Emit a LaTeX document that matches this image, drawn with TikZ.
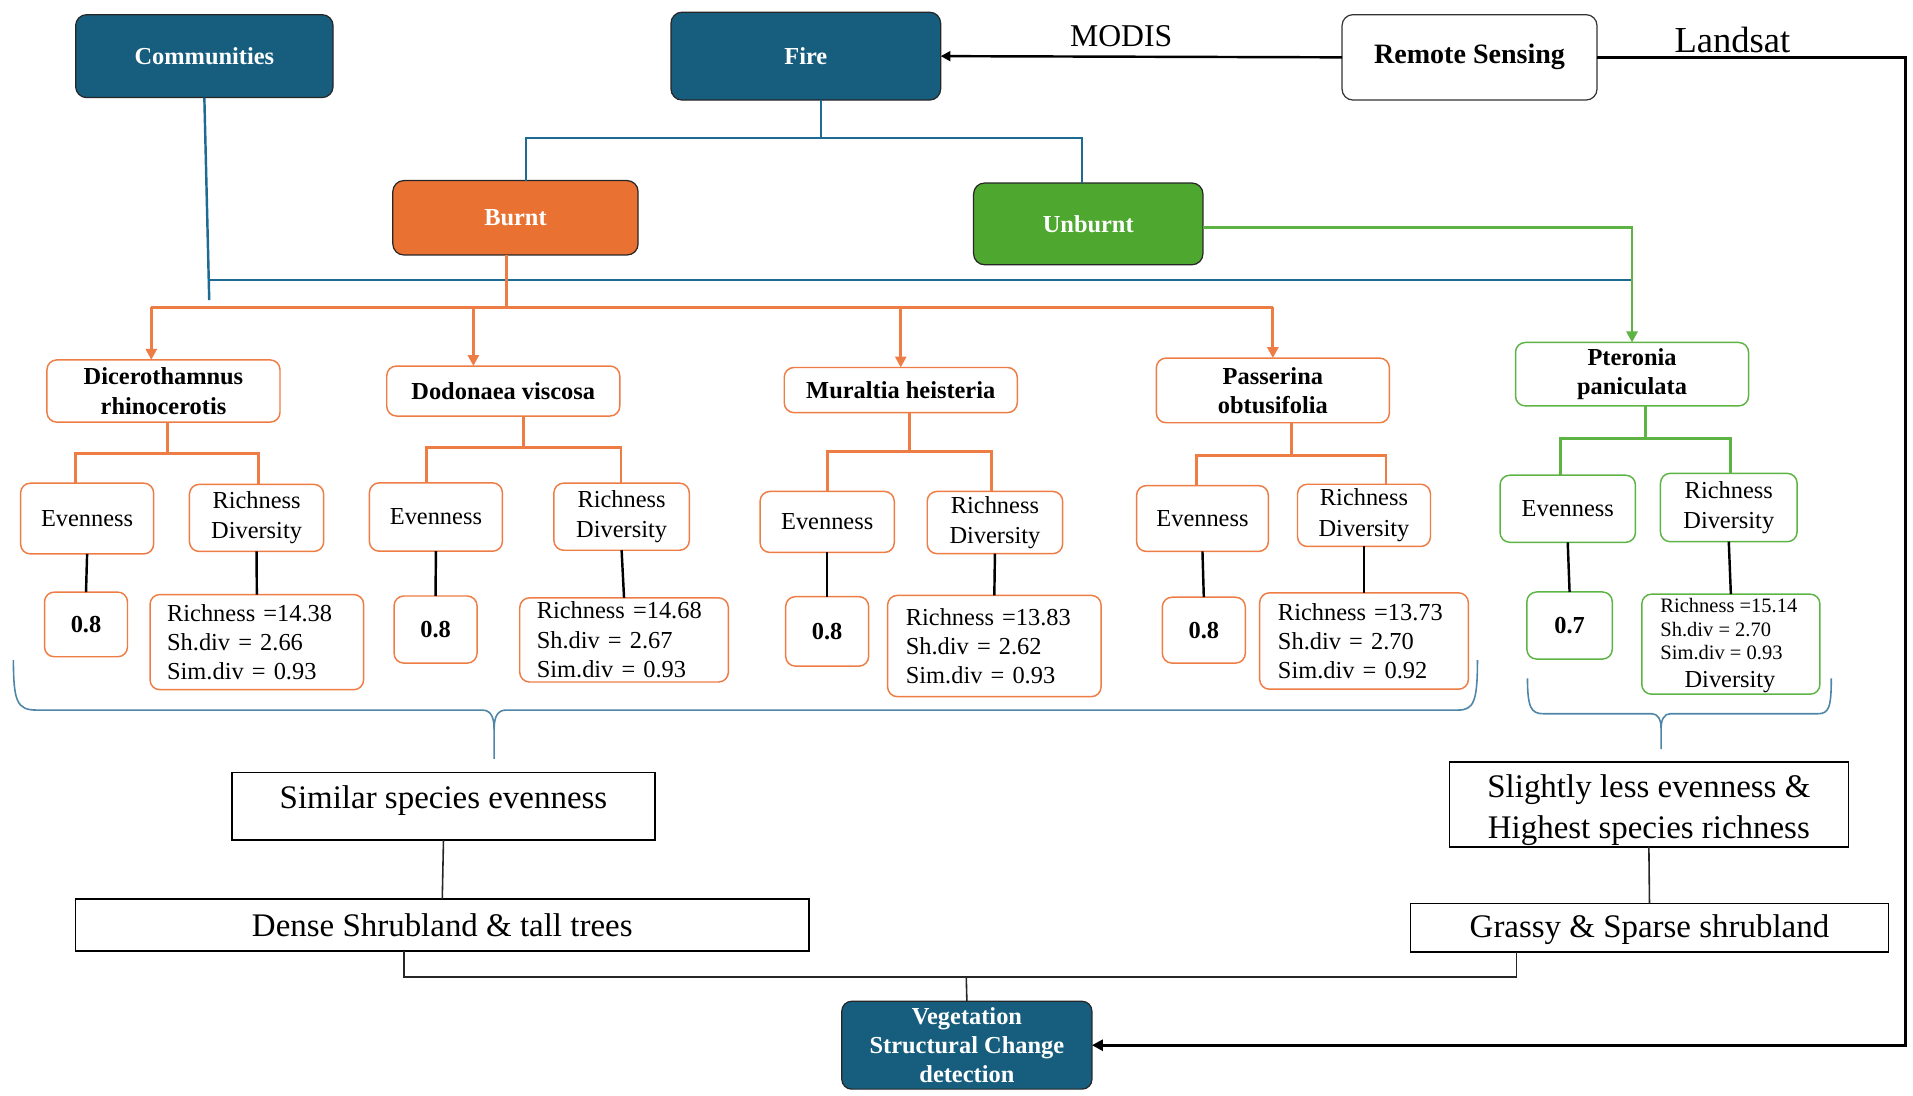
\documentclass[tikz,border=0pt]{standalone}
\usepackage{fontspec}
\setmainfont{Liberation Serif}
\usetikzlibrary{arrows.meta}
\definecolor{navy}{HTML}{175E7E}
\definecolor{burntfill}{HTML}{E97132}
\definecolor{unburntfill}{HTML}{4EA72E}
\definecolor{orline}{HTML}{EE7D45}
\definecolor{grline}{HTML}{5DB445}
\definecolor{bluelink}{HTML}{1D6A93}
\definecolor{bracecol}{HTML}{4F86A8}

\begin{document}
\begin{tikzpicture}[x=1pt,y=-1pt,
  every node/.style={inner sep=0pt, outer sep=0pt},
  headbox/.style={draw=black!85, line width=1pt, rounded corners=9pt, text=white,
    font=\fontsize{20}{24}\selectfont\bfseries, align=center},
  speciesbox/.style={draw=#1, line width=1.2pt, rounded corners=8pt, fill=white,
    font=\fontsize{20}{24}\selectfont\bfseries, align=center, minimum width=191pt},
  measbox/.style={draw=#1, line width=1.2pt, rounded corners=8pt, fill=white,
    font=\fontsize{20}{25}\selectfont, align=center},
  valbox/.style={draw=#1, line width=1.2pt, rounded corners=8pt, fill=white,
    font=\fontsize{20}{24}\selectfont\bfseries, align=center, minimum width=68pt},
  statbox/.style={draw=#1, line width=1.2pt, rounded corners=8pt, fill=white,
    font=\fontsize{20}{24}\selectfont, align=left, inner xsep=14pt},
  plainbox/.style={draw=black, line width=1.3pt, fill=white},
  plaintext/.style={font=\fontsize{27}{33}\selectfont, align=center},
  blueln/.style={draw=bluelink, line width=2pt},
  orln/.style={draw=orline, line width=2.4pt},
  grln/.style={draw=grline, line width=2pt},
  blkln/.style={draw=black, line width=2pt},
  joinln/.style={draw=black!85, line width=1.3pt},
  bracel/.style={draw=bracecol, line width=1.3pt},
  tip/.style={-{Triangle[length=9pt,width=9pt]}},
]
\useasboundingbox (0,0) rectangle (1568,898);

% top row
\node[headbox, fill=navy, minimum width=211pt, minimum height=68pt] (comm) at (167.5,46) {Communities};
\node[headbox, fill=navy, minimum width=221pt, minimum height=72pt] (fire) at (660.5,46) {Fire};
\node[draw=black!80, line width=1pt, rounded corners=9pt, fill=white,
      font=\fontsize{23}{27}\selectfont\bfseries, minimum width=209pt, minimum height=70pt] (rs) at (1204.5,47) {Remote Sensing};
\node[font=\fontsize{26}{30}\selectfont] (modis) at (919,30) {MODIS};
\node[font=\fontsize{30}{34}\selectfont] (landsat) at (1420,33) {Landsat};

% fire classes
\node[headbox, fill=burntfill, minimum width=201pt, minimum height=61pt] (burnt) at (422.5,178.5) {Burnt};
\node[headbox, fill=unburntfill, minimum width=188pt, minimum height=67pt] (unburnt) at (892,183.5) {Unburnt};

% species
\node[speciesbox=orline, minimum height=51pt] (dic) at (134,320.5) {Dicerothamnus\\rhinocerotis};
\node[speciesbox=orline, minimum height=41pt] (dod) at (412.5,320.5) {Dodonaea viscosa};
\node[speciesbox=orline, minimum height=37pt] (mur) at (738.3,319.7) {Muraltia heisteria};
\node[speciesbox=orline, minimum height=53pt] (pas) at (1043.3,320) {Passerina\\obtusifolia};
\node[speciesbox=grline, minimum height=52pt] (pte) at (1337.7,306.7) {Pteronia\\paniculata};

% measures
\node[measbox=orline, minimum width=109pt, minimum height=58pt] (e1) at (71.4,425) {Evenness};
\node[measbox=orline, minimum width=110pt, minimum height=55pt] (r1) at (210.3,424.5) {Richness\\Diversity};
\node[measbox=orline, minimum width=109pt, minimum height=56pt] (e2) at (357.3,423.8) {Evenness};
\node[measbox=orline, minimum width=111pt, minimum height=55pt] (r2) at (509.5,423.5) {Richness\\Diversity};
\node[measbox=orline, minimum width=110pt, minimum height=50pt] (e3) at (678,427.8) {Evenness};
\node[measbox=orline, minimum width=111pt, minimum height=51pt] (r3) at (815.5,428.3) {Richness\\Diversity};
\node[measbox=orline, minimum width=108pt, minimum height=54pt] (e4) at (985.6,425) {Evenness};
\node[measbox=orline, minimum width=109pt, minimum height=51pt] (r4) at (1118,422.4) {Richness\\Diversity};
\node[measbox=grline, minimum width=111pt, minimum height=55pt] (e5) at (1285,417) {Evenness};
\node[measbox=grline, minimum width=112pt, minimum height=56pt] (r5) at (1417,416) {Richness\\Diversity};

% values
\node[valbox=orline, minimum height=53pt] (v1) at (70.5,511.8) {0.8};
\node[valbox=orline, minimum height=55pt] (v2) at (357,516) {0.8};
\node[valbox=orline, minimum height=57pt] (v3) at (678,517.5) {0.8};
\node[valbox=orline, minimum height=54pt] (v4) at (986.7,516.5) {0.8};
\node[valbox=grline, minimum width=70pt, minimum height=55pt] (v5) at (1286.5,512.7) {0.7};

\node[statbox=orline, minimum width=175pt, text width=147pt, minimum height=78pt] (w1) at (210.5,526.3)
  {Richness =14.38\\Sh.div = 2.66\\Sim.div = 0.93};
\node[statbox=orline, minimum width=171pt, text width=143pt, minimum height=69pt] (w2) at (511.5,524.5)
  {Richness =14.68\\Sh.div = 2.67\\Sim.div = 0.93};
\node[statbox=orline, minimum width=175pt, text width=145pt, inner xsep=15pt, minimum height=83pt] (w3) at (815,529.5)
  {Richness =13.83\\Sh.div = 2.62\\Sim.div = 0.93};
\node[statbox=orline, minimum width=171pt, text width=141pt, inner xsep=15pt, minimum height=79pt] (w4) at (1118,525.4)
  {Richness =13.73\\Sh.div = 2.70\\Sim.div = 0.92};
\node[draw=grline, line width=1.2pt, rounded corners=8pt, fill=white,
      minimum width=146pt, minimum height=82pt] (w5) at (1418.7,528) {};
\node[font=\fontsize{16.8}{19.5}\selectfont, align=left, anchor=west] (w5txt) at (1361,515.6)
  {Richness =15.14\\Sh.div = 2.70\\Sim.div = 0.93};
\node[font=\fontsize{20}{24}\selectfont] (w5div) at (1418,559) {Diversity};

% summaries
\node[plainbox, minimum width=347pt, minimum height=55.6pt] (s1) at (363.5,660.8) {};
\node[plaintext] (s1t) at (363.5,656.5) {Similar species evenness};
\node[plainbox, minimum width=327pt, minimum height=69.4pt] (s2) at (1351.5,659.3) {};
\node[plaintext] (s2t) at (1351.5,664) {Slightly less evenness \&\\Highest species richness};
\node[plainbox, minimum width=601pt, minimum height=42.5pt] (d1) at (362.5,758.3) {};
\node[plaintext] (d1t) at (362.5,758.5) {Dense Shrubland \& tall trees};
\node[plainbox, minimum width=392pt, minimum height=40pt] (d2) at (1352,760.5) {};
\node[plaintext] (d2t) at (1352,762) {Grassy \& Sparse shrubland};
\node[headbox, fill=navy, rounded corners=8pt, minimum width=205pt, minimum height=72pt] (veg) at (792.5,856.7)
  {Vegetation\\Structural Change\\detection};

% remote sensing links
\coordinate (rc) at (1561.5,0);
\draw[blkln, -{Triangle[length=8pt,width=8pt]}] (rs.west) -- (fire.east);
\draw[blkln, line width=2.4pt, -{Triangle[length=9pt,width=9pt]}] (rs.east) -- (rs.east -| rc) -- (rc |- veg.east) -- (veg.east);

% fire to classes
\coordinate (fj) at (673,113);
\draw[blueln] (fire.south -| fj) -- (fj);
\draw[blueln] ([xshift=8.5pt]burnt.north) |- (fj) -| ([xshift=-5pt]unburnt.north);

% communities link
\coordinate (cj) at (171.5,246);
\coordinate (ch) at (171.2,229.5);
\coordinate (chend) at (1337.7,229.5);
\draw[blueln] (comm.south) -- (cj);
\draw[blueln] (ch) -- (chend);

% unburnt to species
\draw[grln, tip] ([yshift=-3pt]unburnt.east) -| (pte.north);

% burnt to species
\coordinate (bj) at (415.5,252);
\coordinate (bl) at (124,252);
\coordinate (bd) at (388,252);
\coordinate (bm) at (738.3,252);
\coordinate (br) at (1043.3,252);
\draw[orln] ([xshift=-7pt]burnt.south) -- (bj);
\draw[orln] (bl) -- (br);
\draw[orln, tip] (bl) -- (bl |- dic.north);
\draw[orln, tip] (bd) -- (bd |- dod.north);
\draw[orln, tip] (bm) -- (mur.north);
\draw[orln, tip] (br) -- (pas.north);

% species to measures
\draw[orln] ([xshift=3pt]dic.south) -- ++(0,25.5) coordinate (h1);
\draw[orln] ([xshift=-9.4pt]e1.north) |- (h1) -| ([xshift=1.7pt]r1.north);
\draw[orln] ([xshift=16.5pt]dod.south) -- ++(0,26) coordinate (h2);
\draw[orln] ([xshift=-7.7pt]e2.north) |- (h2) -| ([xshift=-0.5pt]r2.north);
\draw[orln] ([xshift=7.3pt]mur.south) -- ++(0,31.7) coordinate (h3);
\draw[orln] (e3.north) |- (h3) -| ([xshift=-3pt]r3.north);
\draw[orln] ([xshift=15.4pt]pas.south) -- ++(0,26.5) coordinate (h4);
\draw[orln] ([xshift=-4.8pt]e4.north) |- (h4) -| ([xshift=18pt]r4.north);
\draw[grln, line width=2.4pt] ([xshift=11.3pt]pte.south) -- ++(0,26.5) coordinate (h5);
\draw[grln, line width=2.4pt] ([xshift=-6.3pt]e5.north) |- (h5) -| ([xshift=1.6pt]r5.north);

% measures to values
\foreach \m/\v in {e1/v1, r1/w1, e2/v2, r2/w2, e3/v3, r3/w3, e4/v4, r4/w4, e5/v5, r5/w5}
  \draw[blkln] (\m.south) -- (\v.north);

% braces
\draw[bracel] (11,541) .. controls (11,575) and (14,582) .. (30,582) -- (395,582)
  .. controls (402,582) and (405,587) .. (405,598) -- (405,622);
\draw[bracel] (405,598) .. controls (405,587) and (408,582) .. (415,582) -- (1195,582)
  .. controls (1208,582) and (1211,575) .. (1211,541);
\draw[bracel] (1252,556) .. controls (1252,580) and (1255,585) .. (1265,585) -- (1354,585)
  .. controls (1359,585) and (1361.5,590) .. (1361.5,597) -- (1361.5,614);
\draw[bracel] (1361.5,597) .. controls (1361.5,590) and (1364,585) .. (1369,585) -- (1490,585)
  .. controls (1499,585) and (1501,580) .. (1501,556);

% summaries to outcomes
\draw[joinln] (s1.south) -- (d1.north);
\draw[joinln] (s2.south) -- (d2.north);
\coordinate (vj) at (792,801);
\draw[joinln] ([xshift=-31.5pt]d1.south) |- (vj) -| ([xshift=-109pt]d2.south);
\draw[joinln] (vj) -- (veg.north);
\end{tikzpicture}
\end{document}
